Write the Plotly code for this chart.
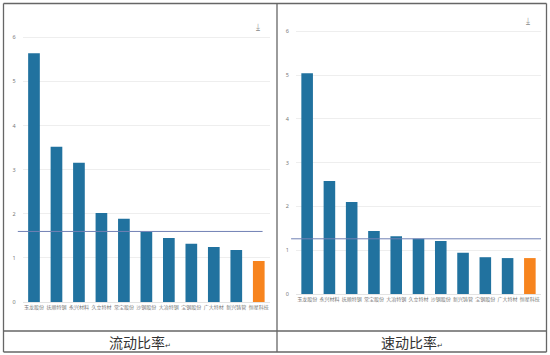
import plotly.graph_objects as go

W, H = 550, 355

# ---- data ----
left_names = ["玉龙股份", "抚顺特钢", "永兴材料", "久立特材", "常宝股份", "沙钢股份",
              "大冶特钢", "宝钢股份", "广大特材", "新兴铸管", "恒星科技"]
left_values = [5.64, 3.52, 3.16, 2.02, 1.89, 1.59, 1.45, 1.32, 1.25, 1.18, 0.93]
left_avg = 1.60

right_names = ["玉龙股份", "永兴材料", "抚顺特钢", "常宝股份", "大冶特钢", "久立特材",
               "沙钢股份", "新兴铸管", "宝钢股份", "广大特材", "恒星科技"]
right_values = [5.04, 2.58, 2.10, 1.44, 1.32, 1.26, 1.21, 0.94, 0.84, 0.82, 0.82]
right_avg = 1.26

captions = ["流动比率", "速动比率"]
y_ticks = [0, 1, 2, 3, 4, 5, 6]

BLUE = "#21729f"
ORANGE = "#f7841e"
AVG = "#7080b4"

def colors(n):
    return [BLUE] * (n - 1) + [ORANGE]

fig = go.Figure()
fig.add_trace(go.Bar(x=left_names, y=left_values, marker_color=colors(len(left_values)),
                     width=0.52, xaxis="x", yaxis="y", showlegend=False, hoverinfo="x+y"))
fig.add_trace(go.Bar(x=right_names, y=right_values, marker_color=colors(len(right_values)),
                     width=0.52, xaxis="x2", yaxis="y2", showlegend=False, hoverinfo="x+y"))

def px_x(p):
    return p / W

def px_y(p):
    return 1 - p / H

axis_common = dict(tickfont=dict(size=5, color="#777", family="Noto Sans CJK SC"),
                   showgrid=False, showline=True, linecolor="#e3e3e3", linewidth=1,
                   ticks="", fixedrange=True, automargin=False)
yaxis_common = dict(range=[0, 6.2], tickvals=y_ticks, showgrid=True, gridcolor="#eeeeee",
                    gridwidth=1, zeroline=False, showline=False,
                    tickfont=dict(size=5.5, color="#777", family="Noto Sans"),
                    ticks="", ticklabelstandoff=6, fixedrange=True, automargin=False)

fig.update_layout(
    template="none",
    width=W, height=H, margin=dict(l=0, r=0, t=0, b=0, pad=0),
    paper_bgcolor="white", plot_bgcolor="white", bargap=0.5,
    xaxis=dict(domain=[px_x(22.75), px_x(270)], anchor="y", **axis_common),
    yaxis=dict(domain=[px_y(302), px_y(302 - 6.2 * 44.1)], anchor="x", **yaxis_common),
    xaxis2=dict(domain=[px_x(296), px_x(541)], anchor="y2", **axis_common),
    yaxis2=dict(domain=[px_y(294), px_y(294 - 6.2 * 43.8)], anchor="x2", **yaxis_common),
)

# average lines
fig.add_shape(type="line", xref="x domain", yref="y", x0=-0.02, x1=0.97, y0=left_avg, y1=left_avg,
              line=dict(color=AVG, width=1))
fig.add_shape(type="line", xref="x2 domain", yref="y2", x0=-0.02, x1=1.0, y0=right_avg, y1=right_avg,
              line=dict(color=AVG, width=1))

# table borders
border = dict(color="#666", width=1.3)
for (x0, y0, x1, y1) in [(3.5, 3.5, 546.5, 3.5), (3.5, 352, 546.5, 352),
                         (3.5, 3.5, 3.5, 352), (546.5, 3.5, 546.5, 352),
                         (277, 3.5, 277, 352), (3.5, 331, 546.5, 331)]:
    fig.add_shape(type="line", xref="paper", yref="paper",
                  x0=px_x(x0), x1=px_x(x1), y0=px_y(y0), y1=px_y(y1), line=border)

# captions
for cx, txt in zip([140, 412], captions):
    fig.add_annotation(x=px_x(cx), y=px_y(342), xref="paper", yref="paper",
                       xanchor="center", yanchor="middle",
                       text=txt + "<span style='font-size:7px'>↵</span>", showarrow=False,
                       font=dict(size=14, color="#333", family="Noto Sans CJK SC"))

# download icons
for ix, iy in [(258, 27), (528, 21)]:
    fig.add_annotation(x=px_x(ix), y=px_y(iy), xref="paper", yref="paper", text="⤓",
                       xanchor="center", yanchor="middle",
                       showarrow=False, font=dict(size=9, color="#999", family="DejaVu Sans"))

fig.write_html("out.html", config={"displayModeBar": False})
